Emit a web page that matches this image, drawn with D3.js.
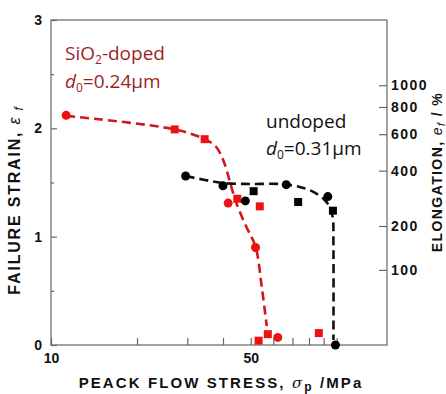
<!DOCTYPE html>
<html>
<head>
<meta charset="utf-8">
<script src="https://cdn.jsdelivr.net/npm/d3@7"></script>
<style>
  body { margin: 0; background: #fff; }
  .axis text { font-family: "Liberation Sans", Arial, sans-serif; font-weight: bold; font-size: 14px; fill: #111; }
  .axis path, .axis line { stroke: #666; stroke-width: 1.2; }
  .title { font-family: "Liberation Sans", Arial, sans-serif; font-weight: bold; fill: #111; }
  .note { font-family: "Open Sans", "Noto Sans", sans-serif; font-size: 19px; }
</style>
</head>
<body>
<svg></svg>
<script>
// measured points (stress in MPa, failure strain)
var redCircleStress = [11.3, 41.7, 52.0, 62.2];
var redCircleStrain = [2.12, 1.31, 0.90, 0.07];
var redSquareStress = [27.1, 34.5, 44.9, 53.8, 53.3, 57.4, 86.6];
var redSquareStrain = [1.99, 1.90, 1.35, 1.28, 0.04, 0.10, 0.11];
var blackCircleStress = [29.6, 40.0, 47.9, 66.6, 93.1, 99.0];
var blackCircleStrain = [1.56, 1.47, 1.33, 1.48, 1.37, 0.0];
var blackSquareStress = [51.2, 73.3, 97.0];
var blackSquareStrain = [1.42, 1.32, 1.24];

// hand drawn trend lines
var redFitStress = [11.3, 27.1, 34.5, 37.8, 40.3, 42.3, 44.4, 48.1, 52.0, 54.7, 56.9];
var redFitStrain = [2.115, 1.99, 1.90, 1.83, 1.69, 1.505, 1.32, 1.10, 0.905, 0.53, 0.175];
var blackFitStress = [29.6, 34.6, 39.9, 49.6, 63.2, 74.2, 83.1, 90.1, 94.5, 96.9, 97.4, 97.4];
var blackFitStrain = [1.56, 1.523, 1.495, 1.486, 1.486, 1.459, 1.412, 1.348, 1.274, 1.172, 0.92, 0.046];

// axis ticks
var strainTicks = [0, 1, 2, 3];
var strainMinor = [0.5, 1.5, 2.5];
var stressTicks = [10, 20, 30, 40, 50, 60, 70, 80, 90, 100];
var stressLabels = [10, 50];
var elongTicks = [100, 200, 400, 600, 800, 1000];

var svg = d3.select("svg"),
    margin = {top: 20, right: 59, bottom: 49, left: 51},
    width = 446 - margin.left - margin.right,
    height = 394 - margin.top - margin.bottom;

svg.attr("width", 446).attr("height", 394);

var g = svg.append("g")
    .attr("transform", "translate(" + margin.left + "," + margin.top + ")");

var x = d3.scaleLog().domain([10, 150]).range([0, width]);
var y = d3.scaleLinear().domain([0, 3]).range([height, 0]);

// frame
g.append("rect")
  .attr("width", width).attr("height", height)
  .attr("fill", "none").attr("stroke", "#666").attr("stroke-width", 1.2);

// bottom axis
g.append("g")
  .attr("class", "axis")
  .attr("transform", "translate(0," + height + ")")
  .call(d3.axisBottom(x).tickValues(stressTicks).tickSize(-7).tickPadding(8)
    .tickFormat(function(d) { return stressLabels.indexOf(d) >= 0 ? d : ""; }))
  .call(function(a) { a.select(".domain").remove(); });

// left axis
g.append("g")
  .attr("class", "axis")
  .call(d3.axisLeft(y).tickValues(strainTicks).tickSize(-6).tickPadding(9).tickFormat(d3.format("d")))
  .call(function(a) { a.select(".domain").remove(); });

g.append("g")
  .attr("class", "axis")
  .call(d3.axisLeft(y).tickValues(strainMinor).tickSize(-3).tickFormat(""))
  .call(function(a) { a.select(".domain").remove(); });

// right axis: elongation e = exp(strain)-1
g.append("g")
  .attr("class", "axis")
  .attr("transform", "translate(" + width + ",0)")
  .call(d3.axisRight(y)
    .tickValues(elongTicks.map(function(e) { return Math.log(1 + e / 100); }))
    .tickSize(-8).tickPadding(4)
    .tickFormat(function(d, i) { return elongTicks[i]; }))
  .call(function(a) {
    a.select(".domain").remove();
    a.selectAll("text").style("letter-spacing", "1.5px");
  });

// trend lines
var line = d3.line()
  .x(function(d) { return x(d[0]); })
  .y(function(d) { return y(d[1]); })
  .curve(d3.curveCatmullRom.alpha(0.5));

g.append("path")
  .datum(d3.zip(redFitStress, redFitStrain))
  .attr("d", line)
  .attr("fill", "none").attr("stroke", "#d01818")
  .attr("stroke-width", 2.6).attr("stroke-dasharray", "9,5");

g.append("path")
  .datum(d3.zip(blackFitStress, blackFitStrain))
  .attr("d", line)
  .attr("fill", "none").attr("stroke", "#111")
  .attr("stroke-width", 2.6).attr("stroke-dasharray", "9,5");

// markers
function circles(xs, ys, col) {
  g.selectAll(null)
    .data(d3.zip(xs, ys))
    .enter().append("circle")
      .attr("cx", function(d) { return x(d[0]); })
      .attr("cy", function(d) { return y(d[1]); })
      .attr("r", 4.5)
      .attr("fill", col);
}
function squares(xs, ys, col) {
  g.selectAll(null)
    .data(d3.zip(xs, ys))
    .enter().append("rect")
      .attr("x", function(d) { return x(d[0]) - 4; })
      .attr("y", function(d) { return y(d[1]) - 4; })
      .attr("width", 8).attr("height", 8)
      .attr("fill", col);
}
circles(redCircleStress, redCircleStrain, "#ee1111");
squares(redSquareStress, redSquareStrain, "#ee1111");
circles(blackCircleStress, blackCircleStrain, "#000");
squares(blackSquareStress, blackSquareStrain, "#000");

// notes
var red = svg.append("text").attr("class", "note").attr("fill", "#9c1f28")
  .attr("x", 65).attr("y", 60);
red.append("tspan").text("SiO");
red.append("tspan").attr("font-size", 12).attr("dy", 4).text("2");
red.append("tspan").attr("dy", -4).text("-doped");

var red2 = svg.append("text").attr("class", "note").attr("fill", "#9c1f28")
  .attr("x", 65).attr("y", 88);
red2.append("tspan").attr("font-style", "italic").text("d");
red2.append("tspan").attr("font-size", 12).attr("dy", 4).text("0");
red2.append("tspan").attr("dy", -4).text("=0.24\u03bcm");

svg.append("text").attr("class", "note").attr("fill", "#111")
  .attr("x", 266).attr("y", 128).text("undoped");

var blk2 = svg.append("text").attr("class", "note").attr("fill", "#111")
  .attr("x", 266).attr("y", 155);
blk2.append("tspan").attr("font-style", "italic").text("d");
blk2.append("tspan").attr("font-size", 12).attr("dy", 4).text("0");
blk2.append("tspan").attr("dy", -4).text("=0.31\u03bcm");

// axis titles
var xt = svg.append("text").attr("class", "title")
  .attr("x", 221).attr("y", 388).attr("text-anchor", "middle")
  .style("font-size", "15px").style("letter-spacing", "2.1px");
xt.append("tspan").text("PEACK FLOW STRESS, ");
xt.append("tspan").attr("font-style", "italic").attr("font-weight", "normal")
  .attr("font-family", "'DejaVu Serif', serif").text("\u03c3");
xt.append("tspan").attr("font-size", 12).attr("dy", 3).text("p");
xt.append("tspan").attr("dy", -3).text(" /MPa");

var yt = svg.append("text").attr("class", "title")
  .attr("transform", "translate(20,200) rotate(-90)").attr("text-anchor", "middle")
  .style("font-size", "16px").style("letter-spacing", "1.8px");
yt.append("tspan").text("FAILURE STRAIN, ");
yt.append("tspan").attr("font-style", "italic").attr("font-weight", "normal").text("\u03b5");
yt.append("tspan").attr("font-size", 12).attr("font-style", "italic").attr("font-weight", "normal").attr("dy", 3).text(" f");

var rt = svg.append("text").attr("class", "title")
  .attr("transform", "translate(442,172) rotate(-90)").attr("text-anchor", "middle")
  .style("font-size", "14px").style("letter-spacing", "1.4px");
rt.append("tspan").text("ELONGATION, ");
rt.append("tspan").attr("font-style", "italic").attr("font-weight", "normal").text("e");
rt.append("tspan").attr("font-size", 11).attr("font-style", "italic").attr("font-weight", "normal").attr("dy", 3).text("f");
rt.append("tspan").attr("dy", -3).text(" / %");
</script>
</body>
</html>
